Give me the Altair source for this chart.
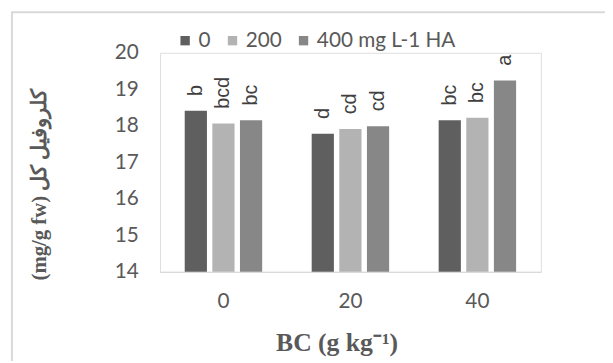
import altair as alt
import pandas as pd

# ---- data ----
bc_levels = ["0", "20", "40"]
ha_levels = ["0", "200", "400 mg L-1 HA"]
values_ha0 = [18.41, 17.78, 18.15]
values_ha200 = [18.06, 17.91, 18.22]
values_ha400 = [18.15, 17.99, 19.24]
letters_ha0 = ["b", "d", "bc"]
letters_ha200 = ["bcd", "cd", "bc"]
letters_ha400 = ["bc", "cd", "a"]
y_ticks = [14, 15, 16, 17, 18, 19, 20]
bar_colors = ["#5f5f5f", "#b3b3b3", "#878787"]

rows = []
for ha, vals, lets in zip(ha_levels, [values_ha0, values_ha200, values_ha400],
                          [letters_ha0, letters_ha200, letters_ha400]):
    for bc, v, l in zip(bc_levels, vals, lets):
        rows.append({"BC": bc, "HA": ha, "value": v, "letter": l})
df = pd.DataFrame(rows)

TXT = "#595959"
TICK_FONT = "Lato"
TITLE_FONT = "Liberation Serif"

x_enc = alt.X(
    "BC:N", sort=bc_levels,
    scale=alt.Scale(paddingInner=0.39, paddingOuter=0.195),
    axis=alt.Axis(
        title="BC (g kg⁻¹)", labelAngle=0, ticks=False,
        domainColor="#d9d9d9", domainWidth=1.2,
        labelFont=TICK_FONT, labelFontSize=21, labelColor=TXT, labelPadding=19,
        titleFont=TITLE_FONT, titleFontSize=26, titleFontWeight="bold", titleColor=TXT,
        titleX=179, titleY=80, titleBaseline="alphabetic", titleAlign="center",
    ),
)
xoff_enc = alt.XOffset("HA:N", sort=ha_levels,
                       scale=alt.Scale(paddingInner=0.196, paddingOuter=0))
y_enc = alt.Y(
    "value:Q",
    scale=alt.Scale(domain=[14, 20], nice=False, zero=False),
    axis=alt.Axis(
        values=y_ticks, tickCount=7, grid=False, domain=False, ticks=False,
        labelOverlap=False, labelFlush=False,
        labelFont=TICK_FONT, labelFontSize=21, labelColor=TXT, labelPadding=22,
        title="(mg/g fw) کلروفیل کل", titleFont=TITLE_FONT, titleFontSize=21,
        titleFontWeight="bold", titleColor=TXT, titleAngle=270,
        titleX=-122, titleY=133, titleAlign="center", titleBaseline="middle",
    ),
)

base = alt.Chart(df)

bars = base.mark_bar().encode(
    x=x_enc,
    xOffset=xoff_enc,
    y=y_enc,
    y2=alt.datum(14),
    color=alt.Color(
        "HA:N", sort=ha_levels,
        scale=alt.Scale(domain=ha_levels, range=bar_colors),
        legend=alt.Legend(
            orient="none", legendX=15, legendY=-23, direction="horizontal",
            title=None, symbolType="square", symbolSize=90, symbolStrokeWidth=0,
            labelFont=TICK_FONT, labelFontSize=21, labelColor=TXT,
            labelOffset=3, columnPadding=11, padding=0,
        ),
    ),
)

labels = base.mark_text(
    angle=270, align="left", baseline="middle", dx=15,
    font="Liberation Sans", fontSize=20, color="#404040",
).encode(
    x=x_enc,
    xOffset=xoff_enc,
    y=y_enc,
    text="letter:N",
)

frame = alt.Chart(alt.Data(values=[{}])).mark_rect(
    filled=False, stroke="#d9d9d9", strokeWidth=2
).encode(
    x=alt.value(-150), x2=alt.value(470),
    y=alt.value(-41), y2=alt.value(330),
)

chart = alt.layer(bars, labels, frame).properties(
    width=386, height=222,
    autosize=alt.AutoSizeParams(type="none"),
    padding={"left": 154, "top": 43, "right": 65, "bottom": 88},
).configure_view(stroke=None).configure(background="white")

chart.save("out.html", embed_options={"renderer": "svg", "actions": False})
